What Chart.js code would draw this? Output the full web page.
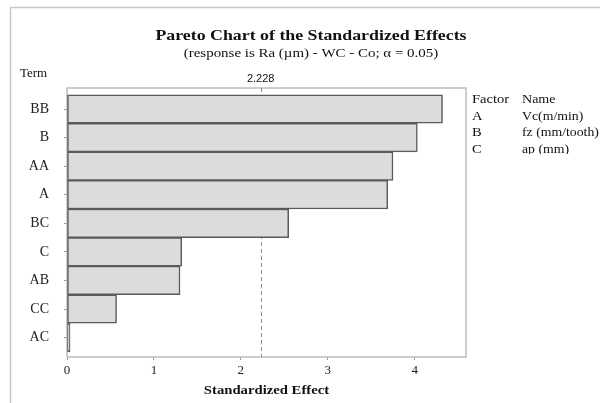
<!DOCTYPE html>
<html><head><meta charset="utf-8">
<script src="https://cdn.jsdelivr.net/npm/chart.js@4/dist/chart.umd.min.js"></script>
<style>html,body{margin:0;padding:0;background:#fff;}#wrap{width:600px;height:403px;position:relative;}</style>
</head><body><div id="wrap"><canvas id="c" width="600" height="403"></canvas></div>
<script>
const terms = ['BB','B','AA','A','BC','C','AB','CC','AC'];
const effects = [4.32, 4.03, 3.75, 3.69, 2.55, 1.32, 1.30, 0.57, 0.035];
const xTicks = [0,1,2,3,4];
const criticalValue = 2.228;
const factorCodes = ['A','B','C'];
const factorNames = ['Vc(m/min)','fz (mm/tooth)','ap (mm)'];
const titleText = 'Pareto Chart of the Standardized Effects';
const subtitleText = '(response is Ra (\u00b5m) - WC - Co; \u03b1 = 0.05)';
const xTitle = 'Standardized Effect';
const yTitle = 'Term';

const serif = '"Liberation Serif","Times New Roman",serif';

function sText(ctx, text, x, y, align, sx){
  ctx.save();
  ctx.translate(x, y);
  ctx.scale(sx, 1);
  ctx.textAlign = align;
  ctx.fillText(text, 0, 0);
  ctx.restore();
}

const deco = {
  id:'deco',
  beforeDatasetsDraw(chart){
    const {ctx, chartArea:a, scales} = chart;
    ctx.save();
    ctx.strokeStyle='#c8c8c8'; ctx.lineWidth=1.5;
    ctx.beginPath(); ctx.moveTo(10.5,403); ctx.lineTo(10.5,7.5); ctx.lineTo(600,7.5); ctx.stroke();
    ctx.strokeStyle='#bdbdbd'; ctx.lineWidth=1.5;
    ctx.strokeRect(a.left, a.top, a.right-a.left, a.bottom-a.top);
    const xp = scales.x.getPixelForValue(criticalValue);
    ctx.strokeStyle='#8a8a8a'; ctx.lineWidth=1; ctx.setLineDash([4,3]);
    ctx.beginPath(); ctx.moveTo(Math.round(xp)+0.5, a.top); ctx.lineTo(Math.round(xp)+0.5, a.bottom); ctx.stroke();
    ctx.setLineDash([]);
    ctx.restore();
  },
  afterDraw(chart){
    const {ctx, chartArea:a, scales} = chart;
    ctx.save();
    ctx.fillStyle='#111';
    ctx.textBaseline='middle';
    ctx.font='bold 15.5px '+serif;
    sText(ctx, titleText, 311, 36, 'center', 1.15);
    ctx.font='13px '+serif;
    sText(ctx, subtitleText, 311, 54, 'center', 1.15);
    ctx.font='bold 13px '+serif;
    sText(ctx, xTitle, (a.left+a.right)/2, 391, 'center', 1.13);
    ctx.font='11px "Liberation Sans",Arial,sans-serif';
    sText(ctx, criticalValue.toFixed(3), scales.x.getPixelForValue(criticalValue), 79, 'center', 1);
    ctx.font='12px '+serif;
    sText(ctx, yTitle, 20, 74, 'left', 1.08);
    ctx.save();
    ctx.beginPath(); ctx.rect(467, 88, 133, 66); ctx.clip();
    ctx.font='13px '+serif;
    sText(ctx, 'Factor', 472, 100, 'left', 1.12);
    sText(ctx, 'Name', 522, 100, 'left', 1.08);
    factorCodes.forEach((c,i)=>{
      sText(ctx, c, 472, 116.5+16.5*i, 'left', 1.12);
      sText(ctx, factorNames[i], 522, 116.5+16.5*i, 'left', 1.06);
    });
    ctx.restore();
    ctx.restore();
  }
};

new Chart(document.getElementById('c'), {
  type:'bar',
  data:{
    datasets:[{
      data: effects.map((v,i)=>({x:v, y:i})),
      backgroundColor:'#dcdcdc',
      borderColor:'#5a5a5a',
      borderWidth:1.5,
      borderSkipped:false,
      barPercentage:1,
      categoryPercentage:1
    }]
  },
  options:{
    indexAxis:'y',
    responsive:false,
    animation:false,
    devicePixelRatio:1,
    layout:{padding:{left:0,right:134,top:0,bottom:0}},
    plugins:{legend:{display:false},tooltip:{enabled:false},title:{display:false}},
    scales:{
      x:{
        type:'linear', position:'bottom', min:0, max:4.59, offset:false,
        afterBuildTicks(s){ s.ticks = xTicks.map(v=>({value:v})); },
        afterFit(s){ s.height = 46; },
        grid:{drawOnChartArea:false, tickLength:3, color:'#999', offset:false},
        border:{display:false},
        ticks:{font:{family:serif,size:13}, color:'#222', padding:3, maxRotation:0}
      },
      y:{
        type:'linear', position:'left', reverse:true, min:-0.735, max:8.68, offset:false,
        afterBuildTicks(s){ s.ticks = terms.map((t,i)=>({value:i})); },
        afterFit(s){ s.width = 67; },
        grid:{drawOnChartArea:false, tickLength:3, color:'#999', offset:false},
        border:{display:false},
        ticks:{font:{family:serif,size:14}, color:'#222', padding:15,
          callback:(v)=>terms[v]}
      },
      x2:{
        type:'linear', position:'top', min:0, max:4.59, display:true,
        afterBuildTicks(s){ s.ticks = []; },
        afterFit(s){ s.height = 88; },
        grid:{display:false}, border:{display:false}, ticks:{display:false}
      }
    }
  },
  plugins:[deco]
});
</script></body></html>
